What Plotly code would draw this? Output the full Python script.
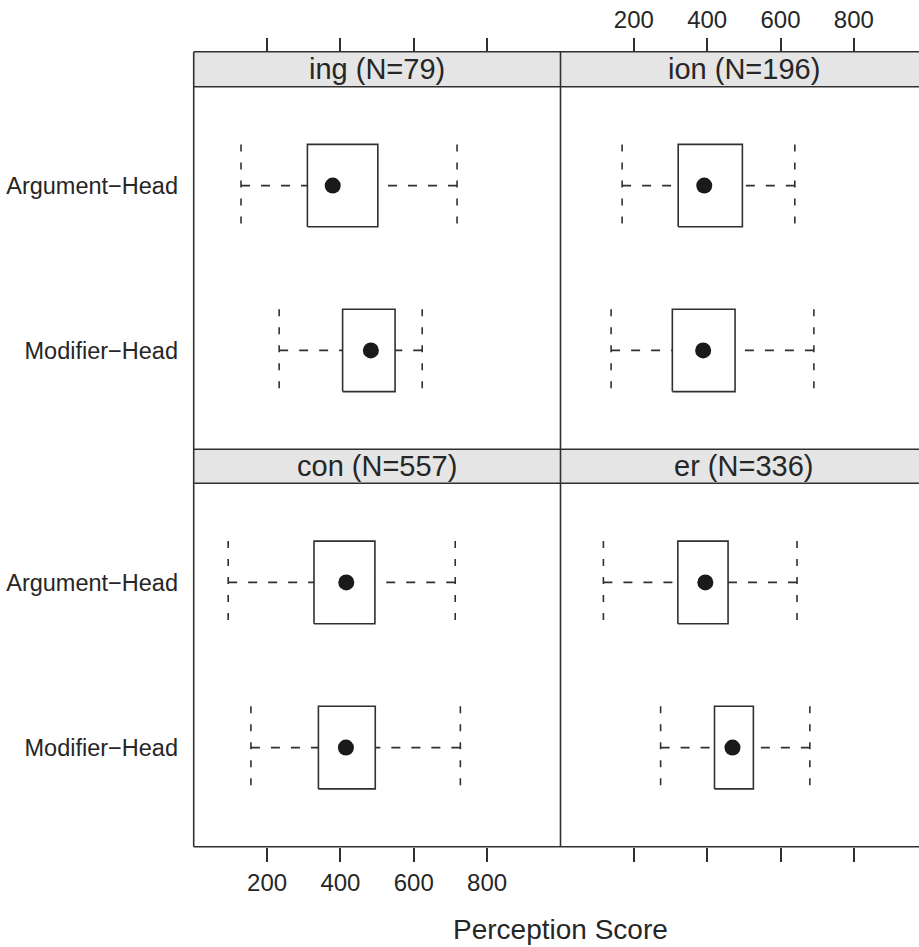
import plotly.graph_objects as go

# ---------------- data ----------------
panels = ["ing (N=79)", "ion (N=196)", "con (N=557)", "er (N=336)"]
groups = ["Argument\u2212Head", "Modifier\u2212Head"]
group_pos = [2, 1]

# per panel: [Argument-Head, Modifier-Head]
lower_whisker = {
    "ing (N=79)": [129, 233],
    "ion (N=196)": [168, 138],
    "con (N=557)": [94, 156],
    "er (N=336)": [117, 273],
}
q1 = {
    "ing (N=79)": [310, 406],
    "ion (N=196)": [321, 305],
    "con (N=557)": [328, 340],
    "er (N=336)": [320, 420],
}
median = {
    "ing (N=79)": [379, 483],
    "ion (N=196)": [392, 389],
    "con (N=557)": [416, 415],
    "er (N=336)": [395, 469],
}
q3 = {
    "ing (N=79)": [502, 549],
    "ion (N=196)": [496, 476],
    "con (N=557)": [494, 495],
    "er (N=336)": [457, 526],
}
upper_whisker = {
    "ing (N=79)": [718, 623],
    "ion (N=196)": [639, 691],
    "con (N=557)": [713, 727],
    "er (N=336)": [645, 680],
}
x_ticks = [200, 400, 600, 800]
x_title = "Perception Score"

# ---------------- layout geometry (pixels -> paper) ----------------
W, H = 919, 947
px_per_unit = 0.3667
xl0, xmid = 193.7, 560.5
strip1_top, panel1_top, panel1_bot = 51.7, 86.7, 449.3
strip2_bot, panel2_bot = 483.3, 846.7

def fx(p):
    return p / W

def fy(p):
    return 1 - p / H

right_range_max = (W - xmid) / px_per_unit

FONT = "Liberation Sans, Arial, Helvetica, sans-serif"
INK = "#262626"
LINE = "#303030"
BOXW = 0.25

# panel -> (xaxis, yaxis)
axes_of = {
    "ing (N=79)": ("x3", "y3"),
    "ion (N=196)": ("x4", "y4"),
    "con (N=557)": ("x", "y"),
    "er (N=336)": ("x2", "y2"),
}

fig = go.Figure()

for pname in panels:
    xa, ya = axes_of[pname]
    for gi, g in enumerate(groups):
        p = group_pos[gi]
        lo, a, m, b, hi = (lower_whisker[pname][gi], q1[pname][gi], median[pname][gi],
                           q3[pname][gi], upper_whisker[pname][gi])
        # whiskers (dashed)
        fig.add_trace(go.Scatter(
            x=[lo, a, None, hi, b], y=[p, p, None, p, p], mode="lines",
            line=dict(color=LINE, width=1.6, dash="9px,11px"),
            xaxis=xa, yaxis=ya, showlegend=False, hoverinfo="skip"))
        # whisker caps (dashed)
        fig.add_trace(go.Scatter(
            x=[lo, lo, None, hi, hi], y=[p + BOXW, p - BOXW, None, p + BOXW, p - BOXW],
            mode="lines", line=dict(color=LINE, width=1.6, dash="7px,11px"),
            xaxis=xa, yaxis=ya, showlegend=False, hoverinfo="skip"))
        # box
        fig.add_trace(go.Scatter(
            x=[a, b, b, a, a], y=[p - BOXW, p - BOXW, p + BOXW, p + BOXW, p - BOXW],
            mode="lines", fill="toself", fillcolor="white",
            line=dict(color=LINE, width=1.6),
            xaxis=xa, yaxis=ya, showlegend=False, hoverinfo="skip"))
        # median dot
        fig.add_trace(go.Scatter(
            x=[m], y=[p], mode="markers",
            marker=dict(color="#1a1a1a", size=16, line=dict(width=0)),
            xaxis=xa, yaxis=ya, showlegend=False, name=g))

xd_left = [fx(xl0), fx(xmid)]
xd_right = [fx(xmid), 1.0]
yd_top = [fy(panel1_bot), fy(panel1_top)]
yd_bot = [fy(panel2_bot), fy(strip2_bot)]

common_x = dict(tickvals=x_ticks, ticks="outside", ticklen=14, tickwidth=1.5,
                tickcolor=LINE, showgrid=False, zeroline=False, showline=False,
                tickfont=dict(family=FONT, size=24, color=INK), fixedrange=True)
common_y = dict(range=[0.4, 2.6], showgrid=False, zeroline=False, showline=False,
                fixedrange=True)

fig.update_layout(
    width=W, height=H,
    margin=dict(l=0, r=0, t=0, b=0),
    paper_bgcolor="white", plot_bgcolor="white",
    font=dict(family=FONT, color=INK),
    xaxis=dict(domain=xd_left, range=[0, 1000], anchor="y", side="bottom",
               showticklabels=True, **common_x),
    xaxis2=dict(domain=xd_right, range=[0, right_range_max], anchor="y2", side="bottom",
                showticklabels=False, **common_x),
    xaxis3=dict(domain=xd_left, range=[0, 1000], anchor="free", position=fy(strip1_top),
                side="top", showticklabels=False, **common_x),
    xaxis4=dict(domain=xd_right, range=[0, right_range_max], anchor="free",
                position=fy(strip1_top), side="top", showticklabels=True, **common_x),
    yaxis=dict(domain=yd_bot, anchor="x", tickvals=group_pos, ticktext=groups,
               ticks="outside", ticklen=10, tickcolor="rgba(0,0,0,0)",
               tickfont=dict(family=FONT, size=23.5, color=INK), **common_y),
    yaxis2=dict(domain=yd_bot, anchor="x2", showticklabels=False, ticks="", **common_y),
    yaxis3=dict(domain=yd_top, anchor="x3", tickvals=group_pos, ticktext=groups,
                ticks="outside", ticklen=10, tickcolor="rgba(0,0,0,0)",
                tickfont=dict(family=FONT, size=23.5, color=INK), **common_y),
    yaxis4=dict(domain=yd_top, anchor="x4", showticklabels=False, ticks="", **common_y),
)

shapes = []
STRIP = "#e5e5e5"
# strips
for (t, b) in [(strip1_top, panel1_top), (panel1_bot, strip2_bot)]:
    shapes.append(dict(type="rect", xref="paper", yref="paper", x0=fx(xl0), x1=1.02,
                       y0=fy(b), y1=fy(t), fillcolor=STRIP, line=dict(width=0),
                       layer="below"))
# horizontal border lines
for yy in [strip1_top, panel1_top, panel1_bot, strip2_bot, panel2_bot]:
    shapes.append(dict(type="line", xref="paper", yref="paper", x0=fx(xl0), x1=1.02,
                       y0=fy(yy), y1=fy(yy), line=dict(color=LINE, width=1.6)))
# vertical border lines
for xx in [xl0, xmid]:
    shapes.append(dict(type="line", xref="paper", yref="paper", x0=fx(xx), x1=fx(xx),
                       y0=fy(panel2_bot), y1=fy(strip1_top), line=dict(color=LINE, width=1.6)))
fig.update_layout(shapes=shapes)

annotations = []
strip_pos = {
    "ing (N=79)": ("x3", (strip1_top + panel1_top) / 2, 500),
    "ion (N=196)": ("x4", (strip1_top + panel1_top) / 2, 500),
    "con (N=557)": ("x", (panel1_bot + strip2_bot) / 2, 500),
    "er (N=336)": ("x2", (panel1_bot + strip2_bot) / 2, 500),
}
for pname in panels:
    xr, ycen, xc = strip_pos[pname]
    annotations.append(dict(text=pname, xref=xr, yref="paper", x=xc, y=fy(ycen),
                            xanchor="center", yanchor="middle", showarrow=False,
                            font=dict(family=FONT, size=29, color=INK)))
annotations.append(dict(text=x_title, xref="paper", yref="paper",
                        x=fx((xl0 + xmid + 1000 * px_per_unit) / 2), y=fy(929),
                        xanchor="center", yanchor="middle", showarrow=False,
                        font=dict(family=FONT, size=28, color=INK)))
fig.update_layout(annotations=annotations)

fig.write_html("out.html",
               config={"displayModeBar": False},
               post_script="document.body.style.margin='0';document.body.style.overflow='hidden';")
